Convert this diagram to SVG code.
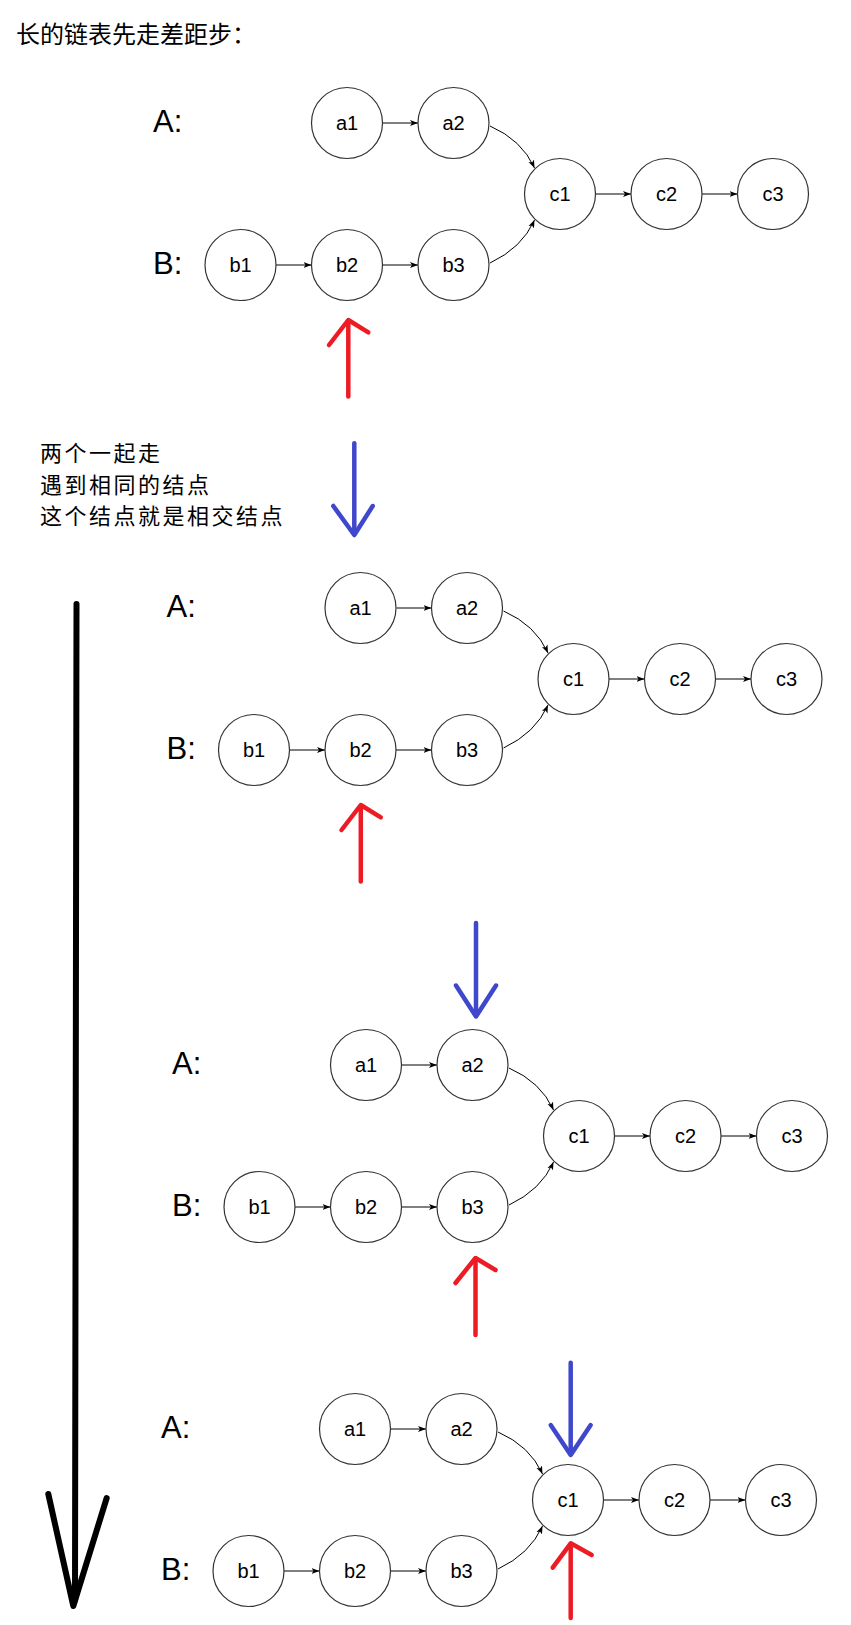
<svg xmlns="http://www.w3.org/2000/svg" width="851" height="1625" viewBox="0 0 851 1625">
<style>
.node circle{fill:#fff;stroke:#333;stroke-width:1.2}
.node text{font-family:"Liberation Sans",Arial,sans-serif;font-size:20px;text-anchor:middle;fill:#000}
.lbl{font-family:"Liberation Sans",Arial,sans-serif;font-size:31px;fill:#000}
.cjk{font-family:"Noto Sans CJK SC",sans-serif;font-size:24px;fill:#000}
.note{font-family:"Noto Sans CJK SC",sans-serif;font-size:22px;letter-spacing:2.5px;fill:#000}
.edge{fill:none;stroke:#000;stroke-width:1;marker-end:url(#ah)}
.red{fill:none;stroke:#ED1C24;stroke-width:4.5;stroke-linecap:round;stroke-linejoin:round}
.blue{fill:none;stroke:#3F48CC;stroke-width:4.5;stroke-linecap:round;stroke-linejoin:round}
.blk{fill:none;stroke:#000;stroke-width:6;stroke-linecap:round;stroke-linejoin:round}
</style>
<defs>
<marker id="ah" markerUnits="userSpaceOnUse" markerWidth="9" markerHeight="8" refX="8" refY="4" orient="auto">
<path d="M0,1 L8,4 L0,7 L2,4 z" fill="#000"/>
</marker>
<g id="tpl-connectors">
<path class="edge" d="M383,123 L418,123"/>
<path class="edge" d="M276,265 L311.5,265"/>
<path class="edge" d="M382.5,265 L418,265"/>
<path class="edge" d="M595.5,194 L631,194"/>
<path class="edge" d="M702,194 L737.5,194"/>
<path class="edge" d="M490,126 Q522,140 534.5,168"/>
<path class="edge" d="M490,263 Q522,248 534.5,220"/>
</g>
</defs>

<text id="title" class="cjk" x="16" y="43">长的链表先走差距步：</text>
<g id="note" class="note">
<text x="40" y="460.5">两个一起走</text>
<text x="40" y="493">遇到相同的结点</text>
<text x="40" y="523.5">这个结点就是相交结点</text>
</g>

<!-- Diagram 1 -->
<g id="diagram1">
<text class="lbl" x="153" y="131.5">A:</text>
<text class="lbl" x="153" y="273.5">B:</text>
<g id="d1-connectors"><use href="#tpl-connectors"/></g>
<g id="d1-a1" class="node"><circle cx="347" cy="123" r="35.5"/><text x="347" y="130">a1</text></g>
<g id="d1-a2" class="node"><circle cx="453.5" cy="123" r="35.5"/><text x="453.5" y="130">a2</text></g>
<g id="d1-b1" class="node"><circle cx="240.5" cy="265" r="35.5"/><text x="240.5" y="272">b1</text></g>
<g id="d1-b2" class="node"><circle cx="347" cy="265" r="35.5"/><text x="347" y="272">b2</text></g>
<g id="d1-b3" class="node"><circle cx="453.5" cy="265" r="35.5"/><text x="453.5" y="272">b3</text></g>
<g id="d1-c1" class="node"><circle cx="560" cy="194" r="35.5"/><text x="560" y="201">c1</text></g>
<g id="d1-c2" class="node"><circle cx="666.5" cy="194" r="35.5"/><text x="666.5" y="201">c2</text></g>
<g id="d1-c3" class="node"><circle cx="773" cy="194" r="35.5"/><text x="773" y="201">c3</text></g>
</g>

<!-- Diagram 2 -->
<g id="diagram2" transform="translate(13.5,485)">
<text class="lbl" x="153" y="131.5">A:</text>
<text class="lbl" x="153" y="273.5">B:</text>
<g id="d2-connectors"><use href="#tpl-connectors"/></g>
<g id="d2-a1" class="node"><circle cx="347" cy="123" r="35.5"/><text x="347" y="130">a1</text></g>
<g id="d2-a2" class="node"><circle cx="453.5" cy="123" r="35.5"/><text x="453.5" y="130">a2</text></g>
<g id="d2-b1" class="node"><circle cx="240.5" cy="265" r="35.5"/><text x="240.5" y="272">b1</text></g>
<g id="d2-b2" class="node"><circle cx="347" cy="265" r="35.5"/><text x="347" y="272">b2</text></g>
<g id="d2-b3" class="node"><circle cx="453.5" cy="265" r="35.5"/><text x="453.5" y="272">b3</text></g>
<g id="d2-c1" class="node"><circle cx="560" cy="194" r="35.5"/><text x="560" y="201">c1</text></g>
<g id="d2-c2" class="node"><circle cx="666.5" cy="194" r="35.5"/><text x="666.5" y="201">c2</text></g>
<g id="d2-c3" class="node"><circle cx="773" cy="194" r="35.5"/><text x="773" y="201">c3</text></g>
</g>

<!-- Diagram 3 -->
<g id="diagram3" transform="translate(19,942)">
<text class="lbl" x="153" y="131.5">A:</text>
<text class="lbl" x="153" y="273.5">B:</text>
<g id="d3-connectors"><use href="#tpl-connectors"/></g>
<g id="d3-a1" class="node"><circle cx="347" cy="123" r="35.5"/><text x="347" y="130">a1</text></g>
<g id="d3-a2" class="node"><circle cx="453.5" cy="123" r="35.5"/><text x="453.5" y="130">a2</text></g>
<g id="d3-b1" class="node"><circle cx="240.5" cy="265" r="35.5"/><text x="240.5" y="272">b1</text></g>
<g id="d3-b2" class="node"><circle cx="347" cy="265" r="35.5"/><text x="347" y="272">b2</text></g>
<g id="d3-b3" class="node"><circle cx="453.5" cy="265" r="35.5"/><text x="453.5" y="272">b3</text></g>
<g id="d3-c1" class="node"><circle cx="560" cy="194" r="35.5"/><text x="560" y="201">c1</text></g>
<g id="d3-c2" class="node"><circle cx="666.5" cy="194" r="35.5"/><text x="666.5" y="201">c2</text></g>
<g id="d3-c3" class="node"><circle cx="773" cy="194" r="35.5"/><text x="773" y="201">c3</text></g>
</g>

<!-- Diagram 4 -->
<g id="diagram4" transform="translate(8,1306)">
<text class="lbl" x="153" y="131.5">A:</text>
<text class="lbl" x="153" y="273.5">B:</text>
<g id="d4-connectors"><use href="#tpl-connectors"/></g>
<g id="d4-a1" class="node"><circle cx="347" cy="123" r="35.5"/><text x="347" y="130">a1</text></g>
<g id="d4-a2" class="node"><circle cx="453.5" cy="123" r="35.5"/><text x="453.5" y="130">a2</text></g>
<g id="d4-b1" class="node"><circle cx="240.5" cy="265" r="35.5"/><text x="240.5" y="272">b1</text></g>
<g id="d4-b2" class="node"><circle cx="347" cy="265" r="35.5"/><text x="347" y="272">b2</text></g>
<g id="d4-b3" class="node"><circle cx="453.5" cy="265" r="35.5"/><text x="453.5" y="272">b3</text></g>
<g id="d4-c1" class="node"><circle cx="560" cy="194" r="35.5"/><text x="560" y="201">c1</text></g>
<g id="d4-c2" class="node"><circle cx="666.5" cy="194" r="35.5"/><text x="666.5" y="201">c2</text></g>
<g id="d4-c3" class="node"><circle cx="773" cy="194" r="35.5"/><text x="773" y="201">c3</text></g>
</g>

<!-- Hand-drawn pointer arrows -->
<g id="pointers">
<g id="red1"><path class="red" d="M348.3,396.5 L348.3,321"/><path class="red" d="M329,345 L348.3,320 L368.3,332.3"/></g>
<g id="blue1"><path class="blue" d="M354.3,443.3 L354.3,534"/><path class="blue" d="M333.3,506 L354.3,535 L372.7,506"/></g>
<g id="red2"><path class="red" d="M360.8,881.5 L360.8,806"/><path class="red" d="M341.5,830 L360.8,805 L380.8,817.3"/></g>
<g id="blue3"><path class="blue" d="M476,923 L476,1015.5"/><path class="blue" d="M456,985.5 L476,1016.5 L496,985.5"/></g>
<g id="red3"><path class="red" d="M475.5,1335 L475.5,1259"/><path class="red" d="M455.5,1283 L475.5,1258 L495.5,1270"/></g>
<g id="blue4"><path class="blue" d="M570.7,1362.7 L570.7,1454"/><path class="blue" d="M550.7,1425 L570.7,1455 L590.7,1425"/></g>
<g id="red4"><path class="red" d="M570.7,1618 L570.7,1544.3"/><path class="red" d="M552.7,1567.7 L570.7,1543.3 L591.7,1555"/></g>
<g id="timeline"><path class="blk" d="M76.5,604 L75,1600"/><path class="blk" d="M48.3,1494 L73.3,1606 L106.7,1498"/></g>
</g>
</svg>
